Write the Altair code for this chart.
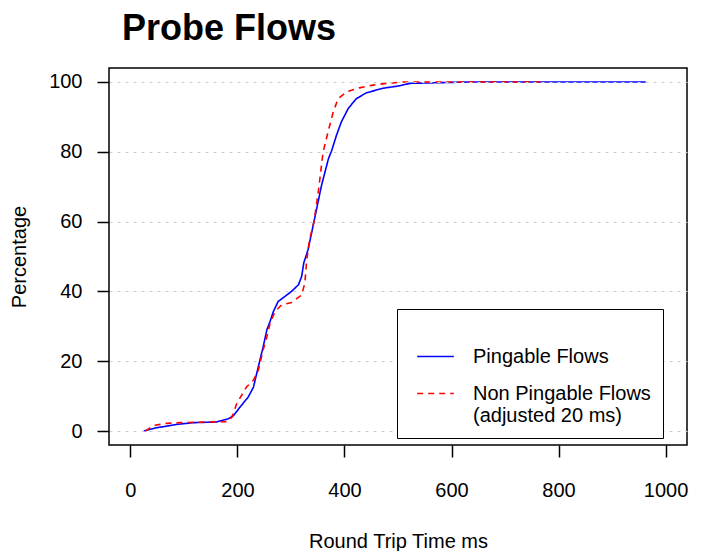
import altair as alt
import pandas as pd

# Pingable flows (blue, solid) - cumulative percentage vs RTT (ms)
blue_x = [25, 47, 68, 87, 118, 161, 183, 193, 205, 220, 230, 236, 242, 248, 255, 261, 267,
          276, 289, 301, 314, 320, 324, 332, 343, 357, 370, 376, 385, 394, 407, 422, 441,
          472, 503, 522, 637, 963]
blue_y = [0, 0.9, 1.4, 1.9, 2.4, 2.6, 3.5, 4.5, 6.9, 9.7, 12.6, 16.5, 20.3, 24.1, 29, 31.4,
          34.2, 37.1, 38.6, 40, 41.9, 44.3, 48.2, 52, 60, 70.3, 78, 80.3, 84.7, 88.5, 92.4,
          95.2, 96.9, 98.2, 98.9, 99.6, 100, 100]

# Non pingable flows (red, dashed)
red_x = [28, 43, 68, 93, 180, 190, 199, 217, 230, 239, 248, 255, 261, 270, 283, 301, 320,
         326, 329, 332, 335, 343, 351, 360, 370, 379, 388, 404, 428, 453, 478, 503, 509, 777]
red_y = [0, 1.6, 2.2, 2.4, 2.7, 4, 8, 12.6, 14.6, 17.4, 23.2, 27, 30.9, 34.2, 36.2, 36.8, 39,
         42.4, 48.2, 52, 54.9, 60, 68.4, 79.9, 86.1, 91.4, 95.2, 97.2, 98.3, 99.1, 99.6, 99.9,
         100, 100]

series_names = ["Pingable Flows", "Non Pingable Flows"]
x_ticks = [0, 200, 400, 600, 800, 1000]
y_ticks = [0, 20, 40, 60, 80, 100]

df = pd.concat([
    pd.DataFrame({"rtt": blue_x, "pct": blue_y, "series": series_names[0]}),
    pd.DataFrame({"rtt": red_x, "pct": red_y, "series": series_names[1]}),
], ignore_index=True)

FONT = "Liberation Sans"

legend = alt.Legend(
    title=" ",
    orient="none",
    legendX=288,
    legendY=241,
    strokeColor="black",
    fillColor="white",
    padding=12,
    symbolOffset=7,
    symbolType="stroke",
    symbolSize=1340,
    symbolStrokeWidth=1.5,
    labelOffset=18,
    labelFontSize=20,
    labelFont=FONT,
    labelColor="black",
    labelLimit=400,
    titleFontSize=12,
    titlePadding=4,
    rowPadding=7,
    labelExpr="datum.label == 'Non Pingable Flows' ? ['Non Pingable Flows', '(adjusted 20 ms)'] : datum.label",
    zindex=2,
)

chart = alt.Chart(df).mark_line(strokeWidth=1.6).encode(
    x=alt.X("rtt:Q",
            scale=alt.Scale(domain=[-40, 1040], nice=False, zero=False),
            axis=alt.Axis(values=x_ticks, format="d", title="Round Trip Time ms", grid=False,
                          domain=False, tickSize=12, tickColor="black", tickWidth=1.5,
                          labelPadding=23.5, labelFontSize=20, labelFont=FONT,
                          labelColor="black", labelFlush=False,
                          titleFontSize=20, titleFont=FONT, titleFontWeight="normal",
                          titleColor="black", titleY=102, titleBaseline="alphabetic")),
    y=alt.Y("pct:Q",
            scale=alt.Scale(domain=[-4, 104], nice=False, zero=False),
            axis=alt.Axis(values=y_ticks, format="d", title="Percentage", grid=True,
                          gridColor="#cccccc", gridDash=[3, 5], gridWidth=1.2, domain=False,
                          tickSize=12, tickColor="black", tickWidth=1.5, labelPadding=15,
                          labelFontSize=20, labelFont=FONT, labelColor="black", labelFlush=False,
                          titleFontSize=20, titleFont=FONT, titleFontWeight="normal",
                          titleColor="black", titleX=-83.5, titleY=188.5, titleAngle=-90,
                          titleAlign="center", titleBaseline="alphabetic", zindex=1)),
    color=alt.Color("series:N",
                    scale=alt.Scale(domain=series_names, range=["#0000ff", "#ff0000"]),
                    legend=legend),
    strokeDash=alt.StrokeDash("series:N",
                              scale=alt.Scale(domain=series_names, range=[[1, 0], [6, 5]]),
                              legend=legend),
).properties(
    width=578,
    height=377,
    title=alt.Title("Probe Flows", anchor="start", frame="group", dx=13, dy=-16, fontSize=36,
                    font=FONT, fontWeight="bold", color="black"),
    autosize=alt.AutoSizeParams(type="none"),
    padding={"left": 101, "top": 60, "right": 5, "bottom": 110},
).configure_view(stroke="black", strokeWidth=1.5)

chart.save("out.html", embed_options={"renderer": "svg", "actions": False})
